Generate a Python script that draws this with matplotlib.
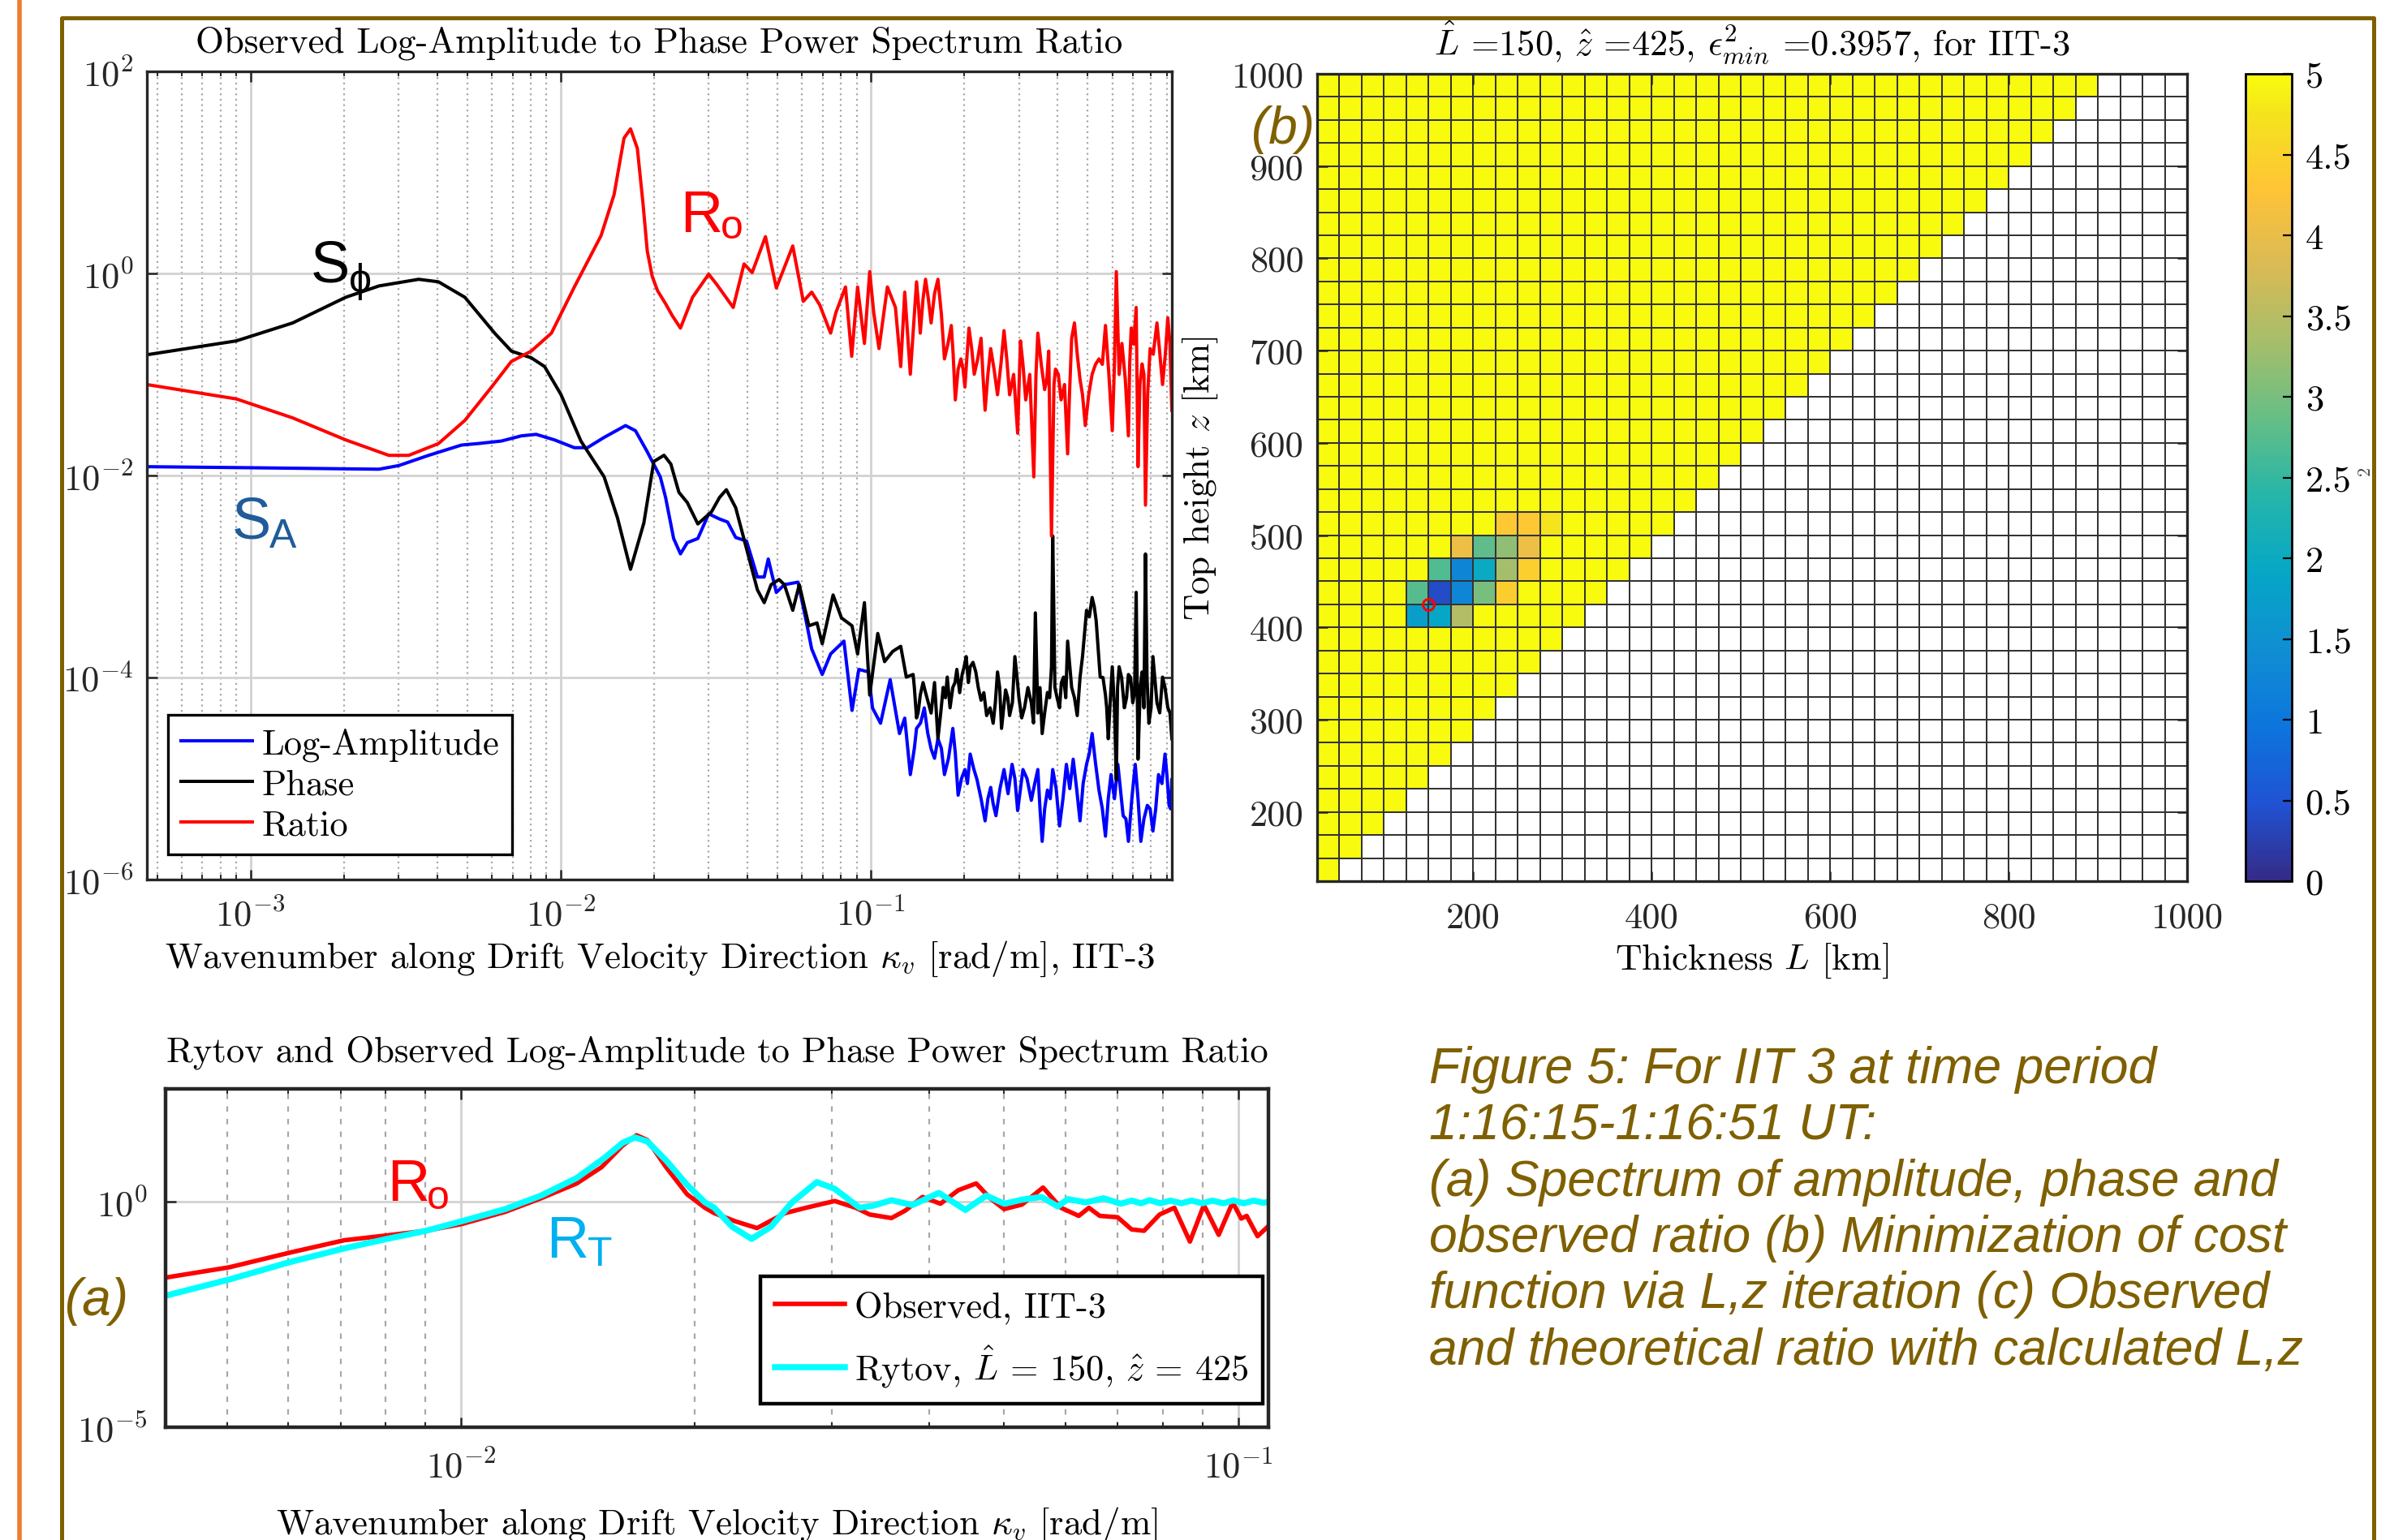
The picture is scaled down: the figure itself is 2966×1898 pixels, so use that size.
import numpy as np
import matplotlib
matplotlib.use("Agg")
import matplotlib.pyplot as plt
from matplotlib.colors import LinearSegmentedColormap
from matplotlib.lines import Line2D
from matplotlib.ticker import FixedLocator, NullLocator, LogLocator, NullFormatter, FormatStrFormatter

plt.rcParams['font.family'] = 'cmr10'
plt.rcParams['mathtext.fontset'] = 'cm'
plt.rcParams['axes.formatter.use_mathtext'] = True

# ---------------- spectra for IIT-3: (log10 kappa_v, log10 power) ----------------
amp_pts = [(-3.334, -1.913), (-3.013, -1.923), (-2.586, -1.938), (-2.522, -1.902), (-2.426, -1.801),
           (-2.32, -1.699), (-2.266, -1.684), (-2.191, -1.659), (-2.127, -1.608), (-2.079, -1.593),
           (-2.020, -1.648), (-1.956, -1.725), (-1.914, -1.725), (-1.860, -1.623), (-1.791, -1.506),
           (-1.759, -1.557), (-1.722, -1.760), (-1.679, -2.014), (-1.662, -2.217), (-1.636, -2.624),
           (-1.614, -2.776), (-1.592, -2.665), (-1.558, -2.624), (-1.523, -2.380), (-1.488, -2.431),
           (-1.462, -2.461), (-1.436, -2.614), (-1.401, -2.649), (-1.366, -3.005), (-1.344, -3.005),
           (-1.331, -2.827), (-1.305, -3.158), (-1.279, -3.081), (-1.235, -3.056), (-1.209, -3.437),
           (-1.191, -3.717), (-1.157, -3.970), (-1.130, -3.767), (-1.087, -3.640), (-1.061, -4.326),
           (-1.039, -3.920), (-1.008, -3.945), (-0.995, -4.301), (-0.969, -4.453), (-0.938, -4.021),
           (-0.908, -4.555), (-0.891, -4.402), (-0.873, -4.961), (-0.853, -4.504), (-0.828, -4.301),
           (-0.806, -4.707), (-0.784, -4.606), (-0.763, -4.961), (-0.736, -4.504), (-0.719, -5.165),
           (-0.697, -4.911), (-0.680, -4.758), (-0.658, -5.012), (-0.632, -5.419), (-0.614, -5.088),
           (-0.597, -5.368), (-0.571, -4.911), (-0.545, -4.860), (-0.527, -5.317), (-0.510, -4.911),
           (-0.483, -5.216), (-0.462, -4.911), (-0.448, -5.622), (-0.431, -5.114), (-0.414, -4.911),
           (-0.392, -5.470), (-0.370, -4.860), (-0.348, -4.809), (-0.326, -5.419), (-0.305, -4.860),
           (-0.287, -4.555), (-0.265, -5.114), (-0.244, -5.571), (-0.226, -4.961), (-0.204, -4.860),
           (-0.187, -5.368), (-0.170, -5.622), (-0.148, -4.860), (-0.130, -5.622), (-0.109, -5.266),
           (-0.091, -5.520), (-0.073, -4.961), (-0.052, -4.758), (-0.039, -5.266), (-0.030, -5.012),
           # finer wiggles in the noisy band
           (-0.860, -4.70), (-0.840, -4.45), (-0.817, -4.55), (-0.795, -4.80), (-0.773, -4.70),
           (-0.750, -4.80), (-0.728, -4.75), (-0.708, -5.00), (-0.689, -5.05), (-0.669, -4.90),
           (-0.645, -5.20), (-0.623, -5.20), (-0.606, -5.25), (-0.584, -5.10), (-0.558, -5.15),
           (-0.536, -5.00), (-0.518, -5.10), (-0.497, -5.00), (-0.472, -5.05), (-0.455, -5.30),
           (-0.440, -5.30), (-0.422, -5.20), (-0.403, -5.10), (-0.381, -5.20), (-0.359, -5.10),
           (-0.337, -5.10), (-0.316, -5.05), (-0.296, -4.75), (-0.276, -4.85), (-0.254, -5.30),
           (-0.235, -5.20), (-0.215, -5.20), (-0.196, -5.10), (-0.178, -5.40), (-0.159, -5.20),
           (-0.139, -5.20), (-0.120, -5.40), (-0.100, -5.30), (-0.082, -5.30), (-0.062, -5.05),
           (-0.045, -5.00), (-0.034, -5.30)]

phase_pts = [(-3.334, -0.805), (-3.046, -0.668), (-2.864, -0.490), (-2.693, -0.236), (-2.586, -0.124),
             (-2.458, -0.058), (-2.394, -0.083), (-2.309, -0.236), (-2.213, -0.591), (-2.159, -0.769),
             (-2.095, -0.835), (-2.052, -0.922), (-1.999, -1.200), (-1.935, -1.659), (-1.860, -2.014),
             (-1.817, -2.420), (-1.775, -2.929), (-1.732, -2.470), (-1.700, -1.862), (-1.667, -1.800),
             (-1.645, -1.887), (-1.619, -2.167), (-1.592, -2.268), (-1.558, -2.480), (-1.514, -2.360),
             (-1.488, -2.217), (-1.466, -2.141), (-1.436, -2.319), (-1.401, -2.726), (-1.366, -3.132),
             (-1.344, -3.259), (-1.322, -3.081), (-1.296, -3.030), (-1.279, -3.081), (-1.252, -3.335),
             (-1.231, -3.081), (-1.200, -3.488), (-1.174, -3.460), (-1.157, -3.666), (-1.122, -3.183),
             (-1.095, -3.410), (-1.061, -3.488), (-1.043, -3.767), (-1.021, -3.259), (-1.004, -4.174),
             (-0.978, -3.564), (-0.956, -3.843), (-0.930, -3.742), (-0.904, -3.691), (-0.886, -3.996),
             (-0.864, -3.970), (-0.853, -4.400), (-0.841, -4.174), (-0.824, -4.148), (-0.806, -4.352),
             (-0.784, -4.606), (-0.767, -4.098), (-0.754, -3.996), (-0.736, -4.098), (-0.723, -3.920),
             (-0.706, -3.970), (-0.693, -3.793), (-0.680, -3.894), (-0.662, -3.945), (-0.645, -4.225),
             (-0.627, -4.377), (-0.606, -4.453), (-0.592, -3.945), (-0.579, -4.504), (-0.566, -4.123),
             (-0.553, -4.377), (-0.536, -3.793), (-0.523, -4.199), (-0.505, -4.300), (-0.483, -4.250),
             (-0.470, -3.360), (-0.462, -4.352), (-0.448, -4.555), (-0.431, -4.148), (-0.418, -3.894),
             (-0.414, -2.599), (-0.407, -4.098), (-0.392, -4.300), (-0.379, -3.996), (-0.366, -3.640),
             (-0.353, -4.098), (-0.335, -4.377), (-0.318, -3.793), (-0.305, -3.335), (-0.287, -3.208),
             (-0.274, -3.437), (-0.261, -3.996), (-0.244, -4.174), (-0.235, -4.606), (-0.222, -3.894),
             (-0.209, -5.012), (-0.200, -3.894), (-0.183, -4.300), (-0.170, -3.970), (-0.156, -4.250),
             (-0.145, -3.157), (-0.139, -4.809), (-0.126, -3.945), (-0.115, -2.777), (-0.104, -4.453),
             (-0.091, -3.793), (-0.078, -4.250), (-0.060, -3.996), (-0.043, -4.300), (-0.030, -4.606),
             # finer wiggles in the noisy band
             (-0.860, -4.10), (-0.848, -4.35), (-0.832, -4.05), (-0.815, -4.25), (-0.795, -4.05),
             (-0.775, -4.35), (-0.760, -4.20), (-0.745, -4.30), (-0.729, -4.05), (-0.714, -4.15),
             (-0.700, -3.90), (-0.686, -4.05), (-0.671, -3.85), (-0.654, -4.10), (-0.636, -4.15),
             (-0.616, -4.30), (-0.599, -4.25), (-0.585, -4.10), (-0.572, -4.30), (-0.559, -4.20),
             (-0.544, -4.25), (-0.529, -4.00), (-0.514, -4.40), (-0.494, -4.10), (-0.476, -4.45),
             (-0.455, -4.10), (-0.440, -4.35), (-0.424, -4.20), (-0.400, -4.20), (-0.386, -4.05),
             (-0.372, -4.20), (-0.360, -3.85), (-0.344, -4.20), (-0.326, -4.00), (-0.311, -3.55),
             (-0.296, -3.40), (-0.280, -3.30), (-0.268, -3.70), (-0.252, -4.00), (-0.240, -4.30),
             (-0.228, -4.20), (-0.215, -4.30), (-0.205, -4.10), (-0.192, -4.00), (-0.176, -4.20),
             (-0.163, -4.00), (-0.150, -4.15), (-0.132, -4.10), (-0.120, -4.30), (-0.110, -4.00),
             (-0.097, -4.30), (-0.085, -4.00), (-0.069, -4.35), (-0.052, -4.10), (-0.036, -4.35)]

ratio_pts = [(-3.334, -1.100), (-3.046, -1.242), (-2.864, -1.430), (-2.693, -1.648), (-2.554, -1.801),
             (-2.490, -1.801), (-2.394, -1.684), (-2.309, -1.455), (-2.223, -1.125), (-2.159, -0.871),
             (-2.095, -0.769), (-2.030, -0.591), (-1.956, -0.134), (-1.870, 0.374), (-1.828, 0.780),
             (-1.796, 1.339), (-1.775, 1.431), (-1.753, 1.238), (-1.735, 0.700), (-1.721, 0.222),
             (-1.705, -0.030), (-1.688, -0.170), (-1.662, -0.300), (-1.640, -0.420), (-1.614, -0.541),
             (-1.575, -0.236), (-1.523, -0.007), (-1.497, -0.109), (-1.444, -0.337), (-1.409, 0.094),
             (-1.383, 0.008), (-1.340, 0.364), (-1.305, -0.144), (-1.252, 0.272), (-1.218, -0.276),
             (-1.191, -0.185), (-1.165, -0.312), (-1.130, -0.591), (-1.113, -0.388), (-1.082, -0.134),
             (-1.062, -0.820), (-1.043, -0.134), (-1.021, -0.693), (-1.004, 0.018), (-0.991, -0.388),
             (-0.974, -0.744), (-0.947, -0.134), (-0.921, -0.337), (-0.904, -0.922), (-0.891, -0.185),
             (-0.873, -0.998), (-0.853, -0.083), (-0.841, -0.591), (-0.824, -0.058), (-0.806, -0.490),
             (-0.784, -0.058), (-0.763, -0.846), (-0.741, -0.515), (-0.728, -1.252), (-0.710, -0.846),
             (-0.697, -1.125), (-0.684, -0.541), (-0.667, -0.998), (-0.645, -0.642), (-0.632, -1.354),
             (-0.614, -0.744), (-0.592, -1.201), (-0.571, -0.566), (-0.553, -1.201), (-0.527, -1.582),
             (-0.518, -0.668), (-0.501, -1.252), (-0.475, -2.014), (-0.462, -0.591), (-0.440, -1.150),
             (-0.427, -0.769), (-0.418, -2.599), (-0.405, -0.947), (-0.387, -1.252), (-0.366, -1.786),
             (-0.353, -0.642), (-0.344, -0.490), (-0.326, -1.049), (-0.309, -1.506), (-0.287, -0.998),
             (-0.265, -0.846), (-0.244, -0.515), (-0.222, -1.557), (-0.209, 0.018), (-0.191, -0.693),
             (-0.170, -1.608), (-0.161, -0.541), (-0.145, -0.337), (-0.139, -1.913), (-0.126, -0.896),
             (-0.115, -2.294), (-0.100, -0.744), (-0.078, -0.490), (-0.060, -1.100), (-0.043, -0.439),
             (-0.030, -1.354),
             # finer wiggles in the noisy band
             (-0.847, -0.30), (-0.832, -0.25), (-0.815, -0.25), (-0.795, -0.20), (-0.773, -0.40),
             (-0.752, -0.70), (-0.735, -0.80), (-0.719, -0.95), (-0.703, -0.95), (-0.690, -0.80),
             (-0.675, -0.75), (-0.656, -0.85), (-0.639, -1.00), (-0.623, -1.00), (-0.603, -0.95),
             (-0.581, -0.90), (-0.562, -0.85), (-0.540, -1.00), (-0.522, -1.05), (-0.510, -0.90),
             (-0.488, -1.00), (-0.468, -1.00), (-0.451, -0.90), (-0.433, -1.05), (-0.410, -1.10),
             (-0.396, -1.00), (-0.376, -1.10), (-0.360, -1.20), (-0.335, -0.80), (-0.318, -1.20),
             (-0.298, -1.20), (-0.276, -0.90), (-0.254, -0.90), (-0.233, -1.00), (-0.215, -0.90),
             (-0.200, -1.00), (-0.180, -1.05), (-0.166, -0.90), (-0.153, -0.70), (-0.133, -1.10),
             (-0.120, -1.00), (-0.108, -1.20), (-0.090, -0.80), (-0.070, -0.75), (-0.051, -0.80),
             (-0.036, -0.70)]

# smoothed observed ratio and Rytov fit (L=150 km, z=425 km)
obs_pts = [(-2.380, -1.679), (-2.298, -1.450), (-2.219, -1.120), (-2.150, -0.850), (-2.095, -0.742),
           (-2.045, -0.640), (-1.999, -0.490), (-1.943, -0.219), (-1.897, 0.081), (-1.851, 0.411),
           (-1.819, 0.772), (-1.792, 1.252), (-1.774, 1.481), (-1.760, 1.372), (-1.736, 0.772),
           (-1.709, 0.171), (-1.686, -0.129), (-1.674, -0.249), (-1.647, -0.429), (-1.619, -0.580),
           (-1.583, -0.249), (-1.556, -0.129), (-1.519, 0.021), (-1.492, -0.129), (-1.474, -0.279),
           (-1.446, -0.357), (-1.428, -0.189), (-1.406, 0.111), (-1.383, -0.039), (-1.360, 0.261),
           (-1.337, 0.411), (-1.319, 0.081), (-1.301, -0.159), (-1.278, -0.057), (-1.251, 0.321),
           (-1.228, -0.129), (-1.205, -0.309), (-1.192, -0.129), (-1.178, -0.309), (-1.155, -0.339),
           (-1.137, -0.610), (-1.121, -0.640), (-1.101, -0.279), (-1.082, -0.129), (-1.062, -0.880),
           (-1.044, -0.069), (-1.025, -0.730), (-1.007, -0.009), (-0.996, -0.369), (-0.989, -0.309),
           (-0.975, -0.760), (-0.960, -0.520)]

rytov_pts = [(-2.380, -2.081), (-2.298, -1.721), (-2.219, -1.330), (-2.150, -1.030), (-2.095, -0.820),
             (-2.045, -0.640), (-1.999, -0.429), (-1.943, -0.159), (-1.897, 0.141), (-1.851, 0.531),
             (-1.815, 0.982), (-1.792, 1.312), (-1.776, 1.432), (-1.760, 1.342), (-1.736, 0.922),
             (-1.709, 0.381), (-1.686, -0.009), (-1.674, -0.129), (-1.651, -0.550), (-1.626, -0.820),
             (-1.601, -0.550), (-1.574, -0.009), (-1.542, 0.441), (-1.519, 0.291), (-1.487, -0.129),
             (-1.469, -0.081), (-1.446, 0.039), (-1.419, -0.069), (-1.385, 0.201), (-1.351, -0.177),
             (-1.324, 0.141), (-1.301, -0.039), (-1.278, 0.051), (-1.253, 0.111), (-1.232, -0.099),
             (-1.219, 0.063), (-1.196, -0.009), (-1.173, 0.081), (-1.151, -0.039), (-1.137, 0.030),
             (-1.125, -0.030), (-1.114, 0.040), (-1.100, -0.030), (-1.087, 0.030), (-1.073, -0.030),
             (-1.060, 0.030), (-1.046, -0.030), (-1.033, 0.030), (-1.019, -0.030), (-1.006, 0.035),
             (-0.993, -0.030), (-0.980, 0.030), (-0.967, -0.020), (-0.960, 0.010)]

# ---------------- cost function over (thickness L, top height z) ----------------
L_edges = np.arange(25, 1001, 25)
z_edges = np.arange(125, 1001, 25)
min_bottom_km = 100        # layer bottom z - L must stay above this
cost_saturated = 5.0       # every other valid cell sits at/above the colour limit
# (L, z, cost) for cells below saturation, indexed by lower-left corner
cost_cells = [(225, 500, 4.35), (250, 500, 4.35), (275, 500, 4.75),
              (175, 475, 4.05), (200, 475, 2.80), (225, 475, 3.17), (250, 475, 4.05),
              (150, 450, 2.70), (175, 450, 1.27), (200, 450, 1.98), (225, 450, 3.33), (250, 450, 4.45),
              (125, 425, 2.75), (150, 425, 0.3957), (175, 425, 1.27), (200, 425, 3.00), (225, 425, 4.42),
              (125, 400, 1.75), (150, 400, 1.90), (175, 400, 3.45)]
L_best, z_best, eps_min = 150, 425, 0.3957

caption = ("Figure 5: For IIT 3 at time period\n"
           "1:16:15-1:16:51 UT:\n"
           "(a) Spectrum of amplitude, phase and\n"
           "observed ratio (b) Minimization of cost\n"
           "function via L,z iteration (c) Observed\n"
           "and theoretical ratio with calculated L,z")

# MATLAB parula, sampled
parula = LinearSegmentedColormap.from_list('parula', [
    (0 / 63, (0.2081, 0.1663, 0.5292)), (6 / 63, (0.1253, 0.3242, 0.8303)),
    (12 / 63, (0.0498, 0.4586, 0.8641)), (18 / 63, (0.0641, 0.5570, 0.8240)),
    (24 / 63, (0.0228, 0.6535, 0.7768)), (30 / 63, (0.1453, 0.7098, 0.6646)),
    (36 / 63, (0.3953, 0.7459, 0.5244)), (42 / 63, (0.6473, 0.7456, 0.4188)),
    (48 / 63, (0.8507, 0.7299, 0.3360)), (54 / 63, (0.9990, 0.7653, 0.2164)),
    (60 / 63, (0.9589, 0.8949, 0.1132)), (63 / 63, (0.9763, 0.9831, 0.0538))])
parula.set_bad('white')

GOLD = '#7F6000'
ORANGE = '#ED7D31'
W, H = 2966, 1899


def fx(x):
    return x / W


def fy(y):
    return 1 - y / H


def rect(x0, y0, x1, y1):
    return [fx(x0), fy(y1), (x1 - x0) / W, (y1 - y0) / H]


def curve(pts):
    lk, ls = np.array(sorted(pts)).T
    return 10 ** lk, 10 ** ls


def matlab_axes(ax):
    ax.tick_params(which='both', direction='in', top=True, right=True, labelsize=16, colors='#262626')
    ax.tick_params(which='major', length=4.5, width=0.9)
    ax.tick_params(which='minor', length=2.2, width=0.7)
    for s in ax.spines.values():
        s.set_linewidth(1.2)
        s.set_color('#262626')


fig = plt.figure(figsize=(W / 200, H / 200), dpi=200)

# page decorations
fig.add_artist(Line2D([fx(24), fx(24)], [0, 1], color=ORANGE, lw=2.0, transform=fig.transFigure))
fig.add_artist(Line2D([fx(76), fx(76), fx(2925), fx(2925)], [0, fy(23), fy(23), 0],
                      color=GOLD, lw=1.8, transform=fig.transFigure))

# ---------------- top-left: spectra ----------------
ax = fig.add_axes(rect(181, 89, 1444, 1085))
for pts, c, lab in [(amp_pts, 'b', 'Log-Amplitude'), (phase_pts, 'k', 'Phase'), (ratio_pts, 'r', 'Ratio')]:
    ax.plot(*curve(pts), color=c, lw=1.45, label=lab)
ax.set_xscale('log')
ax.set_yscale('log')
ax.set_xlim(10 ** -3.334, 10 ** -0.030)
ax.set_ylim(1e-6, 1e2)
ax.yaxis.set_major_locator(FixedLocator([1e-6, 1e-4, 1e-2, 1e0, 1e2]))
ax.yaxis.set_minor_locator(NullLocator())
ax.xaxis.set_minor_locator(LogLocator(base=10, subs=np.arange(2, 10), numticks=100))
ax.xaxis.set_minor_formatter(NullFormatter())
ax.set_axisbelow(True)
ax.grid(True, which='major', color='#d2d2d2', lw=1.0, ls='-')
ax.grid(True, which='minor', axis='x', color='#a8a8a8', lw=0.8, ls=(0, (1, 2)))
matlab_axes(ax)
ax.tick_params(axis='y', pad=6)
ax.tick_params(axis='x', pad=8)
ax.text(0.5, 1.036, 'Observed Log-Amplitude to Phase Power Spectrum Ratio', transform=ax.transAxes,
        ha='center', va='center', fontsize=16.2)
ax.set_xlabel(r'Wavenumber along Drift Velocity Direction $\kappa_v$ [rad/m], IIT-3', fontsize=16.2)
ax.xaxis.set_label_coords(0.5, -0.097)
ax.xaxis.label.set_va('center')
leg = ax.legend(loc='upper left', bbox_to_anchor=(0.0206, 0.2038), borderaxespad=0, fancybox=False,
                edgecolor='black', framealpha=1, fontsize=16, handlelength=2.0, handletextpad=0.25,
                labelspacing=0.22, borderpad=0.35)
leg.get_frame().set_linewidth(1.2)

# ---------------- top-right: cost map ----------------
axh = fig.add_axes(rect(1623, 92, 2695, 1087))
Lg, zg = np.meshgrid(L_edges[:-1], z_edges[:-1])
cost = np.where(zg - Lg >= min_bottom_km, cost_saturated, np.nan)
for L, z, v in cost_cells:
    cost[list(z_edges).index(z), list(L_edges).index(L)] = v
mesh = axh.pcolormesh(L_edges, z_edges, np.ma.masked_invalid(cost), cmap=parula, vmin=0, vmax=5,
                      edgecolors='#333333', linewidth=0.7)
axh.plot([L_best], [z_best], 'o', ms=5, mfc='none', mec='red', mew=1.1)
axh.set_xlim(25, 1000)
axh.set_ylim(125, 1000)
axh.set_xticks([200, 400, 600, 800, 1000])
axh.set_yticks([200, 300, 400, 500, 600, 700, 800, 900, 1000])
axh.xaxis.set_major_formatter(FormatStrFormatter('%d'))
axh.yaxis.set_major_formatter(FormatStrFormatter('%d'))
matlab_axes(axh)
axh.tick_params(axis='y', pad=6)
axh.tick_params(axis='x', pad=9)
axh.text(0.5, 1.039, r'$\hat{L}$ =150, $\hat{z}$ =425, $\epsilon^2_{min}$ =0.3957, for IIT-3',
         transform=axh.transAxes, ha='center', va='center', fontsize=16)
axh.set_xlabel(r'Thickness $L$ [km]', fontsize=16.2)
axh.xaxis.set_label_coords(0.5, -0.097)
axh.xaxis.label.set_va('center')
axh.set_ylabel(r'Top height $z$ [km]', fontsize=16.2)
axh.yaxis.set_label_coords((1479 - 1623) / 1072, 0.5)
axh.yaxis.label.set_va('center')

cax = fig.add_axes(rect(2767, 92, 2824, 1087))
cb = fig.colorbar(mesh, cax=cax, ticks=np.arange(0, 5.01, 0.5))
cb.ax.yaxis.set_major_formatter(FormatStrFormatter('%g'))
cb.ax.tick_params(direction='in', labelsize=16, length=4, width=0.8, pad=6)
cb.outline.set_linewidth(1.0)
fig.text(fx(2914), fy(580), '2', rotation=90, fontsize=8, color='#444444', ha='center', va='center')

# ---------------- bottom: observed vs Rytov ----------------
axb = fig.add_axes(rect(204, 1343, 1563, 1760))
axb.plot(*curve(obs_pts), color='#FF0000', lw=2.0, label='Observed, IIT-3')
axb.plot(*curve(rytov_pts), color='#00FFFF', lw=2.7, label=r'Rytov, $\hat{L}$ = 150, $\hat{z}$ = 425')
axb.set_xscale('log')
axb.set_yscale('log')
axb.set_xlim(10 ** -2.380, 10 ** -0.961)
axb.set_ylim(1e-5, 10 ** 2.51)
axb.yaxis.set_major_locator(FixedLocator([1e-5, 1e0]))
axb.yaxis.set_minor_locator(NullLocator())
axb.xaxis.set_minor_locator(LogLocator(base=10, subs=np.arange(2, 10), numticks=100))
axb.xaxis.set_minor_formatter(NullFormatter())
axb.set_axisbelow(True)
axb.grid(True, which='major', color='#d2d2d2', lw=1.0, ls='-')
axb.grid(True, which='minor', axis='x', color='#a8a8a8', lw=0.8, ls=(0, (3, 4)))
matlab_axes(axb)
for s in axb.spines.values():
    s.set_linewidth(1.6)
axb.tick_params(axis='y', pad=8)
axb.tick_params(axis='x', pad=10)
axb.text(0.5, 1.110, 'Rytov and Observed Log-Amplitude to Phase Power Spectrum Ratio',
         transform=axb.transAxes, ha='center', va='center', fontsize=16.1)
axb.set_xlabel(r'Wavenumber along Drift Velocity Direction $\kappa_v$ [rad/m]', fontsize=16.2)
axb.xaxis.set_label_coords(0.5, -0.288)
axb.xaxis.label.set_va('center')
legb = axb.legend(loc='upper left', bbox_to_anchor=(0.5394, 0.446), borderaxespad=0, fancybox=False,
                  edgecolor='black', framealpha=1, fontsize=16, handlelength=1.95, handletextpad=0.25,
                  labelspacing=0.55, borderpad=0.4)
legb.get_frame().set_linewidth(1.6)

# ---------------- curve annotations ----------------
sans = ['Liberation Sans', 'DejaVu Sans']
for x, y, t, c, fs in [(383, 348, 'S', 'black', 26), (430, 360, '\u03d5', 'black', 18),
                       (286, 664, 'S', '#1F5C99', 26), (332, 675, 'A', '#1F5C99', 18),
                       (838, 286, 'R', 'red', 26), (888, 294, 'o', 'red', 18),
                       (477, 1480, 'R', 'red', 26), (526, 1490, 'o', 'red', 18),
                       (673, 1550, 'R', '#00B0F0', 26), (724, 1560, 'T', '#00B0F0', 18)]:
    fig.text(fx(x), fy(y), t, color=c, fontsize=fs, family=sans, ha='left', va='baseline')

# panel tags and caption
fig.text(fx(80), fy(1604), '(a)', color=GOLD, fontsize=23, family=sans, style='italic', va='center')
fig.text(fx(1542), fy(160), '(b)', color=GOLD, fontsize=23, family=sans, style='italic', va='center')
fig.text(fx(1761), fy(1289), caption, color=GOLD, fontsize=22.5, family=sans, style='italic',
         va='top', ha='left', linespacing=1.225)

fig.savefig('out.png', dpi=200)
